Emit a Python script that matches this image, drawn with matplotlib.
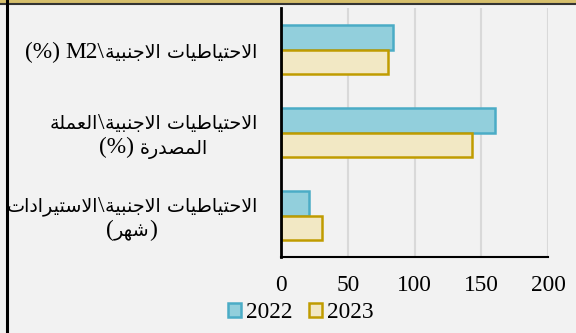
import re
import matplotlib
matplotlib.use("Agg")
import matplotlib.pyplot as plt
from matplotlib.patches import Patch, Rectangle
from matplotlib.lines import Line2D
from matplotlib.transforms import offset_copy

# ---- data -------------------------------------------------------------
categories = [
    "الاحتياطيات الاجنبية\\M2 (%)",
    "الاحتياطيات الاجنبية\\العملة\nالمصدرة (%)",
    "الاحتياطيات الاجنبية\\الاستيرادات\n(شهر)",
]
years = ["2022", "2023"]
values_2022 = [84, 160, 21]
values_2023 = [80, 143, 31]
x_ticks = [0, 50, 100, 150, 200]

# ---- minimal Arabic shaping (matplotlib has no complex text layout) ----
# isolated, final, initial, medial presentation forms
FORMS = {
    "ا": ("\uFE8D", "\uFE8E", None, None),
    "ب": ("\uFE8F", "\uFE90", "\uFE91", "\uFE92"),
    "ة": ("\uFE93", "\uFE94", None, None),
    "ت": ("\uFE95", "\uFE96", "\uFE97", "\uFE98"),
    "ج": ("\uFE9D", "\uFE9E", "\uFE9F", "\uFEA0"),
    "ح": ("\uFEA1", "\uFEA2", "\uFEA3", "\uFEA4"),
    "د": ("\uFEA9", "\uFEAA", None, None),
    "ر": ("\uFEAD", "\uFEAE", None, None),
    "س": ("\uFEB1", "\uFEB2", "\uFEB3", "\uFEB4"),
    "ش": ("\uFEB5", "\uFEB6", "\uFEB7", "\uFEB8"),
    "ص": ("\uFEB9", "\uFEBA", "\uFEBB", "\uFEBC"),
    "ط": ("\uFEC1", "\uFEC2", "\uFEC3", "\uFEC4"),
    "ع": ("\uFEC9", "\uFECA", "\uFECB", "\uFECC"),
    "ل": ("\uFEDD", "\uFEDE", "\uFEDF", "\uFEE0"),
    "م": ("\uFEE1", "\uFEE2", "\uFEE3", "\uFEE4"),
    "ن": ("\uFEE5", "\uFEE6", "\uFEE7", "\uFEE8"),
    "ه": ("\uFEE9", "\uFEEA", "\uFEEB", "\uFEEC"),
    "ي": ("\uFEF1", "\uFEF2", "\uFEF3", "\uFEF4"),
}


def shape(text):
    out, prev_joins, i = [], False, 0
    while i < len(text):
        c = text[i]
        if c not in FORMS:
            out.append(c)
            prev_joins = False
            i += 1
            continue
        if c == "ل" and i + 1 < len(text) and text[i + 1] == "ا":
            out.append("\uFEFC" if prev_joins else "\uFEFB")
            prev_joins = False
            i += 2
            continue
        nxt = text[i + 1] if i + 1 < len(text) else None
        iso, fin, ini, med = FORMS[c]
        joins_next = ini is not None and nxt in FORMS
        if prev_joins and joins_next:
            g = med
        elif prev_joins:
            g = fin
        elif joins_next:
            g = ini
        else:
            g = iso
        out.append(g)
        prev_joins = joins_next
        i += 1
    return "".join(out)


MIRROR = {"(": ")", ")": "("}


def visual_line(line):
    """Right-to-left line in display order, Latin runs kept left-to-right."""
    s = shape(line)[::-1]
    s = "".join(MIRROR.get(c, c) for c in s)
    return re.sub(r"[A-Za-z0-9]+", lambda m: m.group(0)[::-1], s)


ARABIC_RUN = r"[\uFE70-\uFEFF]+(?: [\uFE70-\uFEFF]+)*"
RUN_PATTERN = ARABIC_RUN + r"|[^\uFE70-\uFEFF ]+| "

# ---- style ------------------------------------------------------------
plt.rcParams["font.family"] = ["Liberation Serif", "DejaVu Sans"]
FS = 16.8          # Latin text and numbers
FA = 13.8          # Arabic runs (DejaVu Sans is wide)
BG = "#f2f2f2"
C22_FACE, C22_EDGE = "#92cfdc", "#4bacc6"
C23_FACE, C23_EDGE = "#f2e8c4", "#c09c00"

fig = plt.figure(figsize=(5.76, 3.33), dpi=100, facecolor=BG)
ax = fig.add_axes([281 / 576, 1 - 257 / 333, 267 / 576, 249 / 333])
ax.set_facecolor(BG)

y = list(range(len(categories)))
h = 0.3
ax.barh([v - h / 2 for v in y], values_2022, height=h, color=C22_FACE,
        edgecolor=C22_EDGE, linewidth=1.8, zorder=3, label=years[0])
ax.barh([v + h / 2 for v in y], values_2023, height=h, color=C23_FACE,
        edgecolor=C23_EDGE, linewidth=1.8, zorder=3, label=years[1])

ax.set_xlim(0, 200)
ax.set_ylim(len(categories) - 0.5, -0.5)
ax.set_xticks(x_ticks)
ax.set_xticklabels([str(t) for t in x_ticks], fontsize=FS)
ax.set_yticks(y)
ax.set_yticklabels([])
ax.tick_params(axis="x", length=0, pad=13)
ax.tick_params(axis="y", length=0)
ax.grid(axis="x", color="#d9d9d9", linewidth=1.5, zorder=0)
for side in ("top", "right"):
    ax.spines[side].set_visible(False)
ax.spines["left"].set_linewidth(2)
ax.spines["left"].set_zorder(4)
ax.spines["bottom"].set_linewidth(1.5)

# ---- category labels: mixed Arabic / Latin runs, centred lines,
#      block right-aligned next to the axis -----------------------------
renderer = fig.canvas.get_renderer()
base = ax.get_yaxis_transform()
RIGHT_PX = -24     # right edge of the label block, from the axis line
LINE_PX = 25       # distance between lines
BASE_PX = 8.5      # baseline below the visual centre of a line
GAP_PX = 5.5       # word space between runs of different scripts


def run_style(run):
    if re.fullmatch(ARABIC_RUN, run):
        return dict(family="DejaVu Sans", fontsize=FA)
    return dict(family="Liberation Serif", fontsize=FS)


for yi, cat in zip(y, categories):
    line_items = []
    for line in cat.split("\n"):
        items = []
        for part in re.findall(RUN_PATTERN, visual_line(line)):
            if part == " ":
                items.append((None, GAP_PX))
                continue
            t = ax.text(0, yi, part, transform=base, ha="left",
                        va="baseline", color="black", **run_style(part))
            items.append((t, t.get_window_extent(renderer).width))
        line_items.append(items)
    widths = [sum(w for _, w in items) for items in line_items]
    block_w = max(widths)
    n = len(line_items)
    for k, (items, lw) in enumerate(zip(line_items, widths)):
        x = RIGHT_PX - block_w / 2 - lw / 2
        dy = -(k - (n - 1) / 2) * LINE_PX - BASE_PX
        for t, w in items:
            if t is not None:
                t.set_transform(offset_copy(base, fig=fig, x=x, y=dy,
                                            units="dots"))
            x += w

# ---- legend -----------------------------------------------------------
handles = [Patch(facecolor=C22_FACE, edgecolor=C22_EDGE, linewidth=1.8),
           Patch(facecolor=C23_FACE, edgecolor=C23_EDGE, linewidth=1.8)]
fig.legend(handles, years, loc="center left",
           bbox_to_anchor=(227.5 / 576, 1 - 313 / 333), frameon=False,
           ncol=2, fontsize=FS, handlelength=0.56, handleheight=0.56,
           handletextpad=0.22, columnspacing=0.72, borderpad=0,
           borderaxespad=0)

# frame decoration: gold band with a dark rule on top, black rule at left
fig.patches.append(Rectangle((0, 1 - 3.3 / 333), 1, 3.3 / 333,
                             transform=fig.transFigure, facecolor="#d6bf6c",
                             edgecolor="none", zorder=5))
fig.lines.append(Line2D([0, 1], [1 - 4.3 / 333] * 2, transform=fig.transFigure,
                        color="#333333", linewidth=1.5, zorder=6))
fig.lines.append(Line2D([7 / 576] * 2, [0, 1], transform=fig.transFigure,
                        color="black", linewidth=2.2, zorder=6))

fig.savefig("out.png", dpi=100, facecolor=BG)
